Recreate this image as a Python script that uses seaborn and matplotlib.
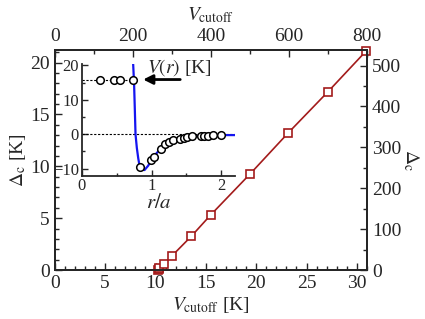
import matplotlib
matplotlib.use("Agg")
import matplotlib.pyplot as plt
import seaborn as sns
import pandas as pd
from matplotlib.ticker import MultipleLocator

# 메인 데이터: V_cutoff [K] 에 따른 Delta_c [K]
v_cutoff = [10.2, 10.3, 10.35, 10.85, 11.65, 13.57, 15.46, 19.43, 23.2, 27.14, 30.95]
delta_c = [0.0, 0.05, 0.2, 0.58, 1.38, 3.27, 5.29, 9.30, 13.24, 17.2, 21.15]

# 인셋 데이터: 포텐셜 V(r)
r_curve = [0.737, 0.75, 0.76, 0.771, 0.79, 0.81, 0.83, 0.86, 0.90, 0.95, 1.0, 1.05,
           1.1, 1.2, 1.3, 1.4, 1.5, 1.6, 1.7, 1.8, 1.9, 2.0, 2.2]
v_curve = [20.5, 15, 8, 0, -4, -7, -9.3, -10.3, -10.4, -9.2, -7.6, -6.0,
           -4.9, -3.0, -1.8, -1.2, -0.85, -0.6, -0.45, -0.35, -0.3, -0.25, -0.25]
r_top = [0.26, 0.466, 0.547, 0.737]
v_top = [15.9, 15.9, 15.9, 15.9]
r_pts = [0.84, 0.99, 1.03, 1.14, 1.19, 1.25, 1.31, 1.41, 1.47, 1.51, 1.58,
         1.71, 1.75, 1.81, 1.88, 1.99]
v_pts = [-9.5, -7.6, -6.6, -4.2, -2.9, -2.2, -1.7, -1.25, -0.96, -0.9, -0.6,
         -0.5, -0.45, -0.4, -0.35, -0.3]

sns.set_style("ticks")
plt.rcParams['font.family'] = ['Liberation Serif', 'DejaVu Serif']
plt.rcParams['mathtext.fontset'] = 'stix'
plt.rcParams['xtick.direction'] = 'in'
plt.rcParams['ytick.direction'] = 'in'

red = '#a31b1b'

fig = plt.figure(figsize=(4.25, 3.19), dpi=100)
ax = fig.add_axes([0.129, 0.1536, 0.7345, 0.6894])

main_df = pd.DataFrame({'v': v_cutoff, 'd': delta_c})
sns.lineplot(data=main_df, x='v', y='d', ax=ax, estimator=None, sort=False,
             color=red, lw=1.2, marker='s', markersize=6, markerfacecolor='white',
             markeredgecolor=red, markeredgewidth=1.2, clip_on=False, zorder=5)
ax.set_xlim(0, 31)
ax.set_ylim(0, 21.2)
ax.xaxis.set_major_locator(MultipleLocator(5))
ax.xaxis.set_minor_locator(MultipleLocator(1))
ax.yaxis.set_major_locator(MultipleLocator(5))
ax.yaxis.set_minor_locator(MultipleLocator(1))
ax.tick_params(which='major', length=5, width=1, labelsize=14)
ax.tick_params(which='minor', length=3, width=1)
ax.set_xlabel(r'$V_{\rm cutoff}$ [K]', fontsize=14, labelpad=2)
ax.set_ylabel(r'$\Delta_{\rm c}$ [K]', fontsize=14, labelpad=2)
for s in ax.spines.values():
    s.set_linewidth(1.3)

# 오른쪽 축
axr = ax.twinx()
axr.set_ylim(0, 538)
axr.yaxis.set_major_locator(MultipleLocator(100))
axr.yaxis.set_minor_locator(MultipleLocator(50))
axr.tick_params(which='major', length=5, width=1, labelsize=14, direction='in')
axr.tick_params(which='minor', length=3, width=1, direction='in')
axr.set_ylabel(r'$\Delta_{\rm c}$', fontsize=14, rotation=270, labelpad=14)

# 위쪽 축
axt = ax.twiny()
axt.set_xlim(0, 800)
axt.xaxis.set_major_locator(MultipleLocator(200))
axt.xaxis.set_minor_locator(MultipleLocator(100))
axt.tick_params(which='major', length=5, width=1, labelsize=14, direction='in')
axt.tick_params(which='minor', length=3, width=1, direction='in')
axt.set_xlabel(r'$V_{\rm cutoff}$', fontsize=14, labelpad=6)
for a in (axr, axt):
    for s in a.spines.values():
        s.set_linewidth(1.3)

# 인셋
axi = fig.add_axes([0.192, 0.4498, 0.362, 0.3505])
axi.patch.set_alpha(0)
axi.axhline(0, color='black', lw=0.8, ls=(0, (2, 1.5)), zorder=1)
sns.lineplot(x=[0] + r_top, y=[v_top[0]] + v_top, ax=axi, estimator=None, sort=False,
             color='black', lw=0.8, ls=(0, (2, 1.5)), zorder=1)
sns.lineplot(x=r_curve, y=v_curve, ax=axi, estimator=None, sort=False,
             color='#1515f0', lw=1.6, zorder=2)
sns.scatterplot(x=r_top + r_pts, y=v_top + v_pts, ax=axi, s=30, marker='o',
                facecolor='white', edgecolor='black', linewidth=1.1, zorder=3, clip_on=False)
axi.set_xlim(0, 2.2)
axi.set_ylim(-12, 20.5)
axi.xaxis.set_major_locator(MultipleLocator(1))
axi.xaxis.set_minor_locator(MultipleLocator(0.5))
axi.yaxis.set_major_locator(MultipleLocator(10))
axi.yaxis.set_minor_locator(MultipleLocator(5))
axi.tick_params(which='major', length=4, width=1, labelsize=12, pad=2)
axi.tick_params(which='minor', length=2.5, width=1)
axi.spines['top'].set_visible(False)
axi.spines['right'].set_visible(False)
axi.spines['left'].set_linewidth(1.3)
axi.spines['bottom'].set_linewidth(1.3)
axi.set_xlabel(r'$r/a$', fontsize=15, labelpad=0)
axi.set_ylabel('')
axi.annotate('', xy=(0.84, 15.9), xytext=(1.45, 15.9),
             arrowprops=dict(arrowstyle='-|>', color='black', lw=2, mutation_scale=14))
axi.text(0.93, 19.5, r'$V(r)$ [K]', fontsize=14, va='center', ha='left')

fig.savefig('out.png', dpi=100)
